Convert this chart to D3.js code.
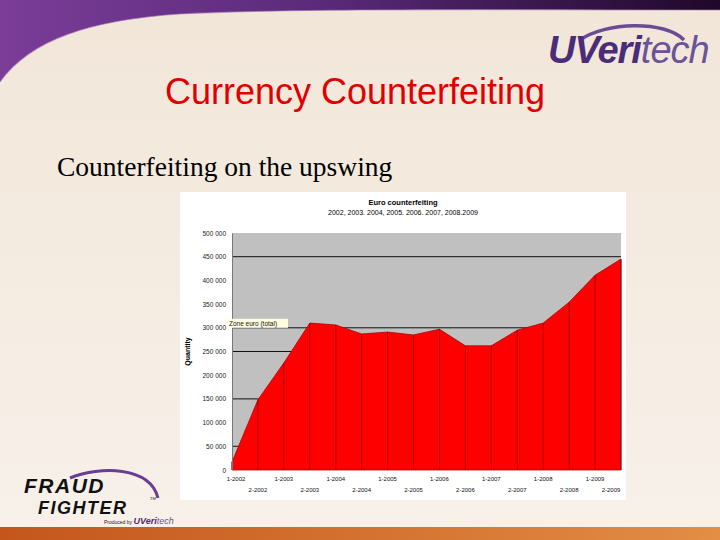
<!DOCTYPE html>
<html>
<head>
<meta charset="utf-8">
<script src="https://cdn.jsdelivr.net/npm/d3@7"></script>
<style>
  html, body { margin: 0; padding: 0; }
  body { width: 720px; height: 540px; overflow: hidden; }
  svg text { font-family: "Liberation Sans", Arial, sans-serif; }
</style>
</head>
<body>
<div id="slide"></div>
<script>
// half-year periods
const periods = ['1-2002', '2-2002', '1-2003', '2-2003', '1-2004', '2-2004', '1-2005', '2-2005',
  '1-2006', '2-2006', '1-2007', '2-2007', '1-2008', '2-2008', '1-2009', '2-2009'];
// counterfeit notes seized, Zone euro (total)
const quantities = [17000, 148000, 226000, 310000, 306000, 287000, 291000, 285000,
  297000, 262000, 262000, 295000, 310000, 354000, 411000, 445000];
const yTicks = [0, 50000, 100000, 150000, 200000, 250000, 300000, 350000, 400000, 450000, 500000];
const gridValues = [50000, 150000, 250000, 300000, 450000];

const W = 720, H = 540;
const svg = d3.select('#slide').append('svg')
    .attr('width', W)
    .attr('height', H);

const defs = svg.append('defs');

const bg = defs.append('linearGradient').attr('id', 'bg').attr('x1', 0).attr('y1', 0).attr('x2', 0).attr('y2', 1);
bg.append('stop').attr('offset', 0).attr('stop-color', '#f1e6d8');
bg.append('stop').attr('offset', 1).attr('stop-color', '#f8f1ea');

const purple = defs.append('linearGradient').attr('id', 'purple').attr('x1', 0).attr('y1', 0).attr('x2', 1).attr('y2', 0);
purple.append('stop').attr('offset', 0).attr('stop-color', '#7b3d98');
purple.append('stop').attr('offset', 0.45).attr('stop-color', '#5a2a7a');
purple.append('stop').attr('offset', 1).attr('stop-color', '#200828');

const orange = defs.append('linearGradient').attr('id', 'orange').attr('x1', 0).attr('y1', 0).attr('x2', 1).attr('y2', 0);
orange.append('stop').attr('offset', 0).attr('stop-color', '#c4561c');
orange.append('stop').attr('offset', 1).attr('stop-color', '#e38d45');

// slide background
svg.append('rect').attr('width', W).attr('height', H).attr('fill', 'url(#bg)');

// top swoosh
svg.append('path')
    .attr('d', 'M0,0 L720,0 L720,10 C520,10 300,8 180,14 C90,20 30,40 0,82 Z')
    .attr('fill', 'url(#purple)');
svg.append('path')
    .attr('d', 'M0,82 C30,40 90,20 180,14 C300,8 520,10 720,10')
    .attr('fill', 'none')
    .attr('stroke', '#a77bbd')
    .attr('stroke-width', 1.2)
    .attr('opacity', 0.6);

// bottom bar
svg.append('rect').attr('x', 0).attr('y', 527).attr('width', W).attr('height', 13).attr('fill', 'url(#orange)');

// UVeritech logo
const logo = svg.append('g').attr('class', 'logo');
logo.append('path')
    .attr('d', 'M580,40 C605,22 665,20 684,40')
    .attr('fill', 'none')
    .attr('stroke', '#6b4c94')
    .attr('stroke-width', 3.5);
const logoText = logo.append('text')
    .attr('x', 548).attr('y', 63)
    .attr('font-size', 38)
    .attr('font-style', 'italic')
    .attr('letter-spacing', -1);
logoText.append('tspan').attr('font-weight', 'bold').attr('fill', '#4a2c78').text('UVeri');
logoText.append('tspan').attr('fill', '#6a5498').text('tech');

// slide titles
svg.append('text')
    .attr('x', 355).attr('y', 104)
    .attr('text-anchor', 'middle')
    .attr('font-size', 36)
    .attr('fill', '#e00000')
    .text('Currency Counterfeiting');

svg.append('text')
    .attr('x', 57).attr('y', 176)
    .attr('font-size', 27.5)
    .style('font-family', '"Liberation Serif", "Times New Roman", serif')
    .attr('fill', '#000')
    .text('Counterfeiting on the upswing');

// Fraud Fighter logo
const ff = svg.append('g').attr('class', 'fraud-fighter');
ff.append('path')
    .attr('d', 'M70,478 C100,466 150,466 158,498')
    .attr('fill', 'none')
    .attr('stroke', '#6a3d92')
    .attr('stroke-width', 3);
ff.append('text')
    .attr('x', 24).attr('y', 493)
    .attr('font-size', 21).attr('font-weight', 'bold').attr('font-style', 'italic')
    .attr('fill', '#111').attr('letter-spacing', 1.5)
    .text('FRAUD');
ff.append('text')
    .attr('x', 38).attr('y', 514)
    .attr('font-size', 18).attr('font-weight', 'bold').attr('font-style', 'italic')
    .attr('fill', '#111').attr('letter-spacing', 1.5)
    .text('FIGHTER');
ff.append('text')
    .attr('x', 150).attr('y', 500)
    .attr('font-size', 4).attr('fill', '#111')
    .text('TM');
const ffBy = ff.append('text').attr('x', 104).attr('y', 524).attr('font-size', 5).attr('fill', '#222');
ffBy.append('tspan').text('Produced by ');
ffBy.append('tspan').attr('font-size', 9).attr('font-weight', 'bold').attr('font-style', 'italic').attr('fill', '#4a2c78').text('UVeri');
ffBy.append('tspan').attr('font-size', 9).attr('font-style', 'italic').attr('fill', '#6a5498').text('tech');

// --- the chart ---
const box = { x: 180, y: 192, w: 446, h: 308 };
const plot = { left: 232, right: 621, top: 233, bottom: 470 };

const chart = svg.append('g').attr('class', 'chart');
chart.append('rect')
    .attr('x', box.x).attr('y', box.y)
    .attr('width', box.w).attr('height', box.h)
    .attr('fill', '#fff');

chart.append('text')
    .attr('x', 403).attr('y', 205)
    .attr('text-anchor', 'middle')
    .attr('font-size', 7.5).attr('font-weight', 'bold')
    .text('Euro counterfeiting');
chart.append('text')
    .attr('x', 403).attr('y', 215)
    .attr('text-anchor', 'middle')
    .attr('font-size', 7)
    .text('2002, 2003. 2004, 2005. 2006. 2007, 2008.2009');

const x = d3.scalePoint()
    .domain(periods)
    .range([plot.left, plot.right]);

const y = d3.scaleLinear()
    .domain([0, 500000])
    .range([plot.bottom, plot.top]);

chart.append('rect')
    .attr('x', plot.left).attr('y', plot.top)
    .attr('width', plot.right - plot.left).attr('height', plot.bottom - plot.top)
    .attr('fill', '#c0c0c0');

chart.append('g')
    .attr('class', 'grid')
  .selectAll('line')
    .data(gridValues)
  .enter().append('line')
    .attr('x1', plot.left).attr('x2', plot.right)
    .attr('y1', d => y(d)).attr('y2', d => y(d))
    .attr('stroke', '#111')
    .attr('stroke-width', 1);

const data = periods.map((p, i) => ({ period: p, value: quantities[i] }));

const area = d3.area()
    .x(d => x(d.period))
    .y0(y(0))
    .y1(d => y(d.value));

chart.append('path')
    .datum(data)
    .attr('d', area)
    .attr('fill', '#ff0000')
    .attr('stroke', '#b00000')
    .attr('stroke-width', 0.8);

chart.append('g')
    .attr('class', 'drops')
  .selectAll('line')
    .data(data)
  .enter().append('line')
    .attr('x1', d => x(d.period)).attr('x2', d => x(d.period))
    .attr('y1', d => y(d.value)).attr('y2', y(0))
    .attr('stroke', '#8a0000')
    .attr('stroke-width', 0.8);

// y axis
const yAxis = d3.axisLeft(y)
    .tickValues(yTicks)
    .tickSize(0)
    .tickPadding(6)
    .tickFormat(d => d3.format(',')(d).replace(/,/g, ' '));

const yg = chart.append('g')
    .attr('transform', `translate(${plot.left},0)`)
    .call(yAxis);
yg.select('.domain').attr('stroke', '#777');
yg.selectAll('text')
    .attr('font-size', 6.5)
    .attr('fill', '#222')
    .style('font-family', '"Liberation Sans", Arial, sans-serif');

chart.append('text')
    .attr('transform', `translate(190,${(plot.top + plot.bottom) / 2}) rotate(-90)`)
    .attr('text-anchor', 'middle')
    .attr('font-size', 7)
    .attr('font-weight', 'bold')
    .text('Quantity');

// x labels, staggered in two rows like the original
chart.append('g')
    .attr('class', 'x-labels')
  .selectAll('text')
    .data(periods)
  .enter().append('text')
    .attr('x', (d, i) => Math.min(x(d) + (i === 0 ? 4 : 0), plot.right - 10))
    .attr('y', (d, i) => i % 2 === 0 ? 481 : 492)
    .attr('text-anchor', 'middle')
    .attr('font-size', 6)
    .attr('fill', '#111')
    .text(d => d);

// series label
const tag = chart.append('g').attr('transform', `translate(227,${y(300000) - 9})`);
tag.append('rect')
    .attr('width', 61).attr('height', 9)
    .attr('fill', '#ffffe0');
tag.append('text')
    .attr('x', 2).attr('y', 7)
    .attr('font-size', 6.5)
    .attr('fill', '#111')
    .text('Zone euro (total)');
</script>
</body>
</html>
